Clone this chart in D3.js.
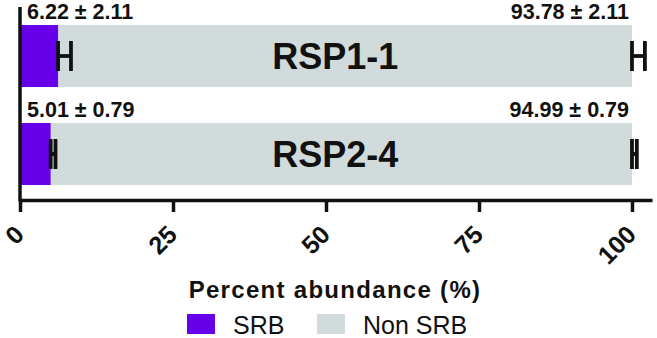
<!DOCTYPE html>
<html><head><meta charset="utf-8">
<script src="https://cdn.jsdelivr.net/npm/d3@7"></script>
<style>
html,body{margin:0;padding:0;background:#fff;}
svg{display:block;}
text{font-family:"Liberation Sans",Arial,Helvetica,sans-serif;fill:#111;}
</style></head>
<body>
<svg id="chart" width="657" height="338"></svg>
<script>
const categories = ["RSP1-1", "RSP2-4"];
const srbValues = [6.22, 5.01];
const srbErrors = [2.11, 0.79];
const nonSrbValues = [93.78, 94.99];
const nonSrbErrors = [2.11, 0.79];
const tickValues = [0, 25, 50, 75, 100];
const seriesNames = ["SRB", "Non SRB"];
const seriesColors = ["#6600e8", "#d2dbdb"];
const axisTitle = "Percent abundance (%)";

const svg = d3.select("#chart");
const ink = "#111";

const x = d3.scaleLinear().domain([0, 103.27]).range([20, 652]);
const y = d3.scaleBand().domain(categories).range([25, 185]).paddingInner(0.367).paddingOuter(0);
const bw = y.bandwidth();

const rows = categories.map((c, i) => ({
  cat: c, srb: srbValues[i], srbErr: srbErrors[i], non: nonSrbValues[i], nonErr: nonSrbErrors[i]
}));

// bars
const g = svg.append("g");
g.selectAll("rect.non").data(rows).join("rect")
  .attr("x", d => x(d.srb)).attr("y", d => y(d.cat))
  .attr("width", d => x(d.srb + d.non) - x(d.srb)).attr("height", bw)
  .attr("fill", seriesColors[1]);
g.selectAll("rect.srb").data(rows).join("rect")
  .attr("x", x(0)).attr("y", d => y(d.cat))
  .attr("width", d => x(d.srb) - x(0)).attr("height", bw)
  .attr("fill", seriesColors[0]);

// error bars (one-sided, H shape)
function errBar(v, e, cy) {
  const capH = 30;
  const x0 = x(v), x1 = x(v + e);
  const eg = svg.append("g").attr("stroke", ink).attr("stroke-width", 3.8).attr("fill", "none");
  eg.append("line").attr("x1", x0).attr("x2", x1).attr("y1", cy).attr("y2", cy);
  eg.append("line").attr("x1", x0).attr("x2", x0).attr("y1", cy - capH / 2).attr("y2", cy + capH / 2);
  eg.append("line").attr("x1", x1).attr("x2", x1).attr("y1", cy - capH / 2).attr("y2", cy + capH / 2);
}
rows.forEach(d => {
  const cy = y(d.cat) + bw / 2;
  errBar(d.srb, d.srbErr, cy);
  errBar(d.srb + d.non, d.nonErr, cy);
});

// value labels
rows.forEach(d => {
  const by = y(d.cat) - 6;
  svg.append("text").attr("x", x(0) + 7).attr("y", by)
    .attr("font-size", 21.5).attr("font-weight", "bold")
    .text(d3.format(".2f")(d.srb) + " \u00b1 " + d3.format(".2f")(d.srbErr));
  svg.append("text").attr("x", x(100) - 3).attr("y", by).attr("text-anchor", "end")
    .attr("font-size", 21.5).attr("font-weight", "bold")
    .text(d3.format(".2f")(d.non) + " \u00b1 " + d3.format(".2f")(d.nonErr));
  svg.append("text").attr("x", x(51.5)).attr("y", y(d.cat) + bw / 2 + 13)
    .attr("text-anchor", "middle").attr("font-size", 36).attr("font-weight", "bold")
    .text(d.cat);
});

// y axis line
svg.append("line").attr("x1", x(0)).attr("x2", x(0)).attr("y1", 7).attr("y2", 201.5)
  .attr("stroke", ink).attr("stroke-width", 3.5);

// x axis
const xAxis = svg.append("g").attr("transform", "translate(0,200)")
  .call(d3.axisBottom(x).tickValues(tickValues).tickSizeOuter(0).tickSizeInner(12).tickFormat(d3.format("d")));
xAxis.select(".domain").attr("stroke", ink).attr("stroke-width", 3.5);
xAxis.selectAll(".tick line").attr("stroke", ink).attr("stroke-width", 3.5);
xAxis.selectAll(".tick text")
  .attr("font-size", 25).attr("font-weight", "bold").attr("fill", ink)
  .attr("font-family", "'Liberation Sans',Arial,sans-serif")
  .attr("text-anchor", "end").attr("dy", "0.35em")
  .attr("x", 0).attr("y", 0)
  .attr("transform", "translate(-1,30) rotate(-45)");

// axis title
svg.append("text").attr("x", 335).attr("y", 298).attr("text-anchor", "middle")
  .attr("font-size", 24).attr("font-weight", "bold").attr("letter-spacing", 1.3)
  .text(axisTitle);

// legend
const legendX = [187, 317];
seriesNames.forEach((n, i) => {
  svg.append("rect").attr("x", legendX[i]).attr("y", 314).attr("width", 28).attr("height", 20)
    .attr("fill", seriesColors[i]);
  svg.append("text").attr("x", legendX[i] + 46).attr("y", 334)
    .attr("font-size", 25).text(n);
});
</script>
</body></html>
